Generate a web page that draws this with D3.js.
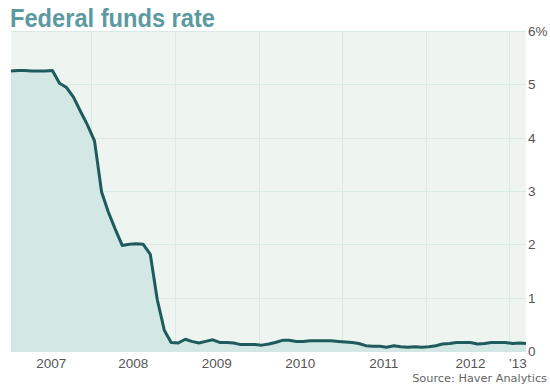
<!DOCTYPE html>
<html>
<head>
<meta charset="utf-8">
<script src="https://cdn.jsdelivr.net/npm/d3@7"></script>
<style>
  body { margin: 0; background: #fff; }
  svg { display: block; }
</style>
</head>
<body>
<div id="chart"></div>
<script>
//data: monthly effective rate, Jan 2007 - Mar 2013
var firstMonth = new Date(2007, 0, 15);
var rates = [
    5.25, 5.26, 5.26, 5.25, 5.25, 5.25, 5.26, 5.02, 4.94, 4.76, 4.49, 4.24,
    3.94, 2.98, 2.61, 2.28, 1.98, 2.00, 2.01, 2.00, 1.81, 0.97, 0.39, 0.16,
    0.15, 0.22, 0.18, 0.15, 0.18, 0.21, 0.16, 0.16, 0.15, 0.12, 0.12, 0.12,
    0.11, 0.13, 0.16, 0.20, 0.20, 0.18, 0.18, 0.19, 0.19, 0.19, 0.19, 0.18,
    0.17, 0.16, 0.14, 0.10, 0.09, 0.09, 0.07, 0.10, 0.08, 0.07, 0.08, 0.07,
    0.08, 0.10, 0.13, 0.14, 0.16, 0.16, 0.16, 0.13, 0.14, 0.16, 0.16, 0.16,
    0.14, 0.15, 0.14
];
var yearTicks = [2007, 2008, 2009, 2010, 2011, 2012, 2013];
var yearLabels = ['2007', '2008', '2009', '2010', '2011', '2012', '\u201913'];
var rateTicks = [0, 1, 2, 3, 4, 5, 6];
var rateLabels = ['0', '1', '2', '3', '4', '5', '6%'];

//sizes
var outerW = 550,
    outerH = 385,
    plot = { left: 11, right: 526, top: 31, bottom: 352 };

var data = rates.map(function(r, i) {
    return { date: d3.timeMonth.offset(firstMonth, i), rate: r };
});

//scales
var xScale = d3.scaleTime()
    .domain([firstMonth, data[data.length - 1].date])
    .range([plot.left, plot.right]);

var yScale = d3.scaleLinear()
    .domain([0, 6])
    .range([351, plot.top]);

var svg = d3.select('#chart').append('svg')
    .attr('width', outerW)
    .attr('height', outerH);

//background
svg.append('rect')
    .attr('x', plot.left)
    .attr('y', plot.top)
    .attr('width', plot.right - plot.left)
    .attr('height', plot.bottom - plot.top)
    .attr('fill', '#eef5f1');

//grid
svg.append('g').selectAll('line')
    .data(rateTicks.slice(1))
    .enter().append('line')
    .attr('x1', plot.left)
    .attr('x2', plot.right)
    .attr('y1', function(d) { return Math.round(yScale(d)) + 0.5; })
    .attr('y2', function(d) { return Math.round(yScale(d)) + 0.5; })
    .attr('stroke', '#d9e9e3')
    .attr('stroke-width', 1);

svg.append('g').selectAll('line')
    .data(yearTicks.slice(1))
    .enter().append('line')
    .attr('x1', function(d) { return Math.round(xScale(new Date(d, 0, 1))) + 0.5; })
    .attr('x2', function(d) { return Math.round(xScale(new Date(d, 0, 1))) + 0.5; })
    .attr('y1', plot.top)
    .attr('y2', plot.bottom)
    .attr('stroke', '#d9e9e3')
    .attr('stroke-width', 1);

//area + line
var area = d3.area()
    .x(function(d) { return xScale(d.date); })
    .y0(plot.bottom)
    .y1(function(d) { return yScale(d.rate); });

var line = d3.line()
    .x(function(d) { return xScale(d.date); })
    .y(function(d) { return yScale(d.rate); });

svg.append('path')
    .datum(data)
    .attr('d', area)
    .attr('fill', '#d3e7e4');

svg.append('path')
    .datum(data)
    .attr('d', line)
    .attr('fill', 'none')
    .attr('stroke', '#1e5b5c')
    .attr('stroke-width', 3)
    .attr('stroke-linejoin', 'round');

//x labels, centred in each year
svg.append('g').selectAll('text')
    .data(yearTicks)
    .enter().append('text')
    .attr('x', function(d, i) {
        var a = Math.max(xScale(new Date(d, 0, 1)), plot.left),
            b = Math.min(xScale(new Date(d + 1, 0, 1)), plot.right);
        return (a + b) / 2 + (d == 2012 ? 3 : 0);
    })
    .attr('y', 368)
    .attr('text-anchor', 'middle')
    .attr('font-family', 'Liberation Sans, Arial, sans-serif')
    .attr('font-size', 13.5)
    .attr('fill', '#555')
    .text(function(d, i) { return yearLabels[i]; });

//y labels on the right
svg.append('g').selectAll('text')
    .data(rateTicks)
    .enter().append('text')
    .attr('x', 528)
    .attr('y', function(d) { return yScale(d) + 5; })
    .attr('font-family', 'Liberation Sans, Arial, sans-serif')
    .attr('font-size', 13.5)
    .attr('fill', '#555')
    .text(function(d, i) { return rateLabels[i]; });

//title
svg.append('text')
    .attr('x', 10)
    .attr('y', 27)
    .attr('font-family', 'Liberation Sans Narrow, Arial Narrow, sans-serif')
    .attr('font-weight', 'bold')
    .attr('font-size', 26)
    .attr('textLength', 205)
    .attr('lengthAdjust', 'spacingAndGlyphs')
    .attr('fill', '#5b9aa0')
    .text('Federal funds rate');

//source
svg.append('text')
    .attr('x', 547)
    .attr('y', 382)
    .attr('text-anchor', 'end')
    .attr('font-family', 'DejaVu Sans, Verdana, sans-serif')
    .attr('font-size', 11.3)
    .attr('fill', '#666')
    .text('Source: Haver Analytics');
</script>
</body>
</html>
